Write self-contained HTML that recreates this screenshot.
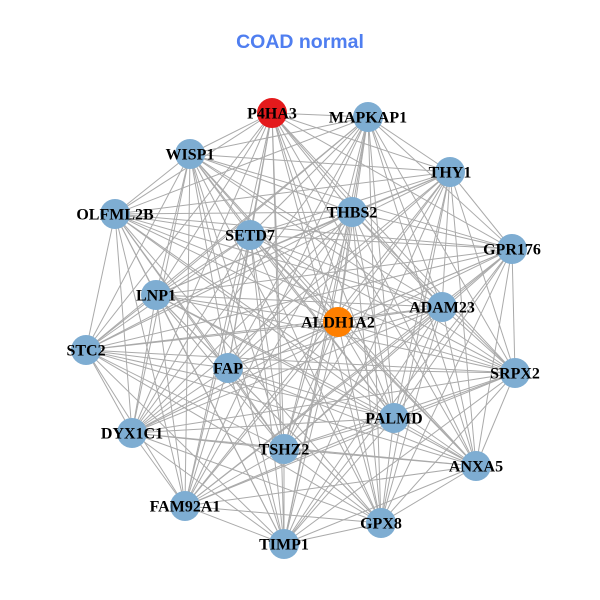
<!DOCTYPE html>
<html><head><meta charset="utf-8"><style>
html,body{margin:0;padding:0;background:#fff;}
svg{display:block}
.l{font-family:"Liberation Serif",serif;font-weight:bold;font-size:16px;fill:#000;text-anchor:middle;dominant-baseline:central}
</style></head><body>
<svg id="s" width="600" height="600" viewBox="0 0 600 600">
<rect width="600" height="600" fill="#fff"/>
<text x="300" y="48" text-anchor="middle" font-family="Liberation Sans,sans-serif" font-weight="bold" font-size="19.5" fill="#4f7ef0">COAD normal</text>
<g id="e" stroke="#aaaaaa" stroke-width="1"></g>
<g id="n"></g>
<g>
<text class="l" x="272" y="114">P4HA3</text>
<text class="l" x="368" y="118">MAPKAP1</text>
<text class="l" x="190" y="155">WISP1</text>
<text class="l" x="450" y="173">THY1</text>
<text class="l" x="115" y="215">OLFML2B</text>
<text class="l" x="352" y="213">THBS2</text>
<text class="l" x="250" y="236">SETD7</text>
<text class="l" x="512" y="250">GPR176</text>
<text class="l" x="156" y="296">LNP1</text>
<text class="l" x="338" y="323">ALDH1A2</text>
<text class="l" x="442" y="308">ADAM23</text>
<text class="l" x="86" y="351">STC2</text>
<text class="l" x="228" y="369">FAP</text>
<text class="l" x="515" y="374">SRPX2</text>
<text class="l" x="394" y="419">PALMD</text>
<text class="l" x="132" y="434">DYX1C1</text>
<text class="l" x="284" y="450">TSHZ2</text>
<text class="l" x="476" y="467">ANXA5</text>
<text class="l" x="185" y="507">FAM92A1</text>
<text class="l" x="381" y="524">GPX8</text>
<text class="l" x="284" y="545">TIMP1</text>
</g>
</svg>
<script>
var N=[[272,113,"#e41a1c"],[368,117],[190,154],[450,172],[115,214],[352,212],[250,235],[512,249],[156,295],[338,322,"#ff7f00"],[442,307],[86,350],[228,368],[515,373],[394,418],[132,433],[284,449],[476,466],[185,506],[381,523],[284,544]];
var ns="http://www.w3.org/2000/svg",e=document.getElementById("e"),n=document.getElementById("n");
for(var i=0;i<N.length;i++)for(var j=i+1;j<N.length;j++){var l=document.createElementNS(ns,"line");l.setAttribute("x1",N[i][0]);l.setAttribute("y1",N[i][1]);l.setAttribute("x2",N[j][0]);l.setAttribute("y2",N[j][1]);e.appendChild(l);}
N.forEach(function(p){var c=document.createElementNS(ns,"circle");c.setAttribute("cx",p[0]);c.setAttribute("cy",p[1]);c.setAttribute("r",15);c.setAttribute("fill",p[2]||"#7eadd2");n.appendChild(c);});
</script>
</body></html>
